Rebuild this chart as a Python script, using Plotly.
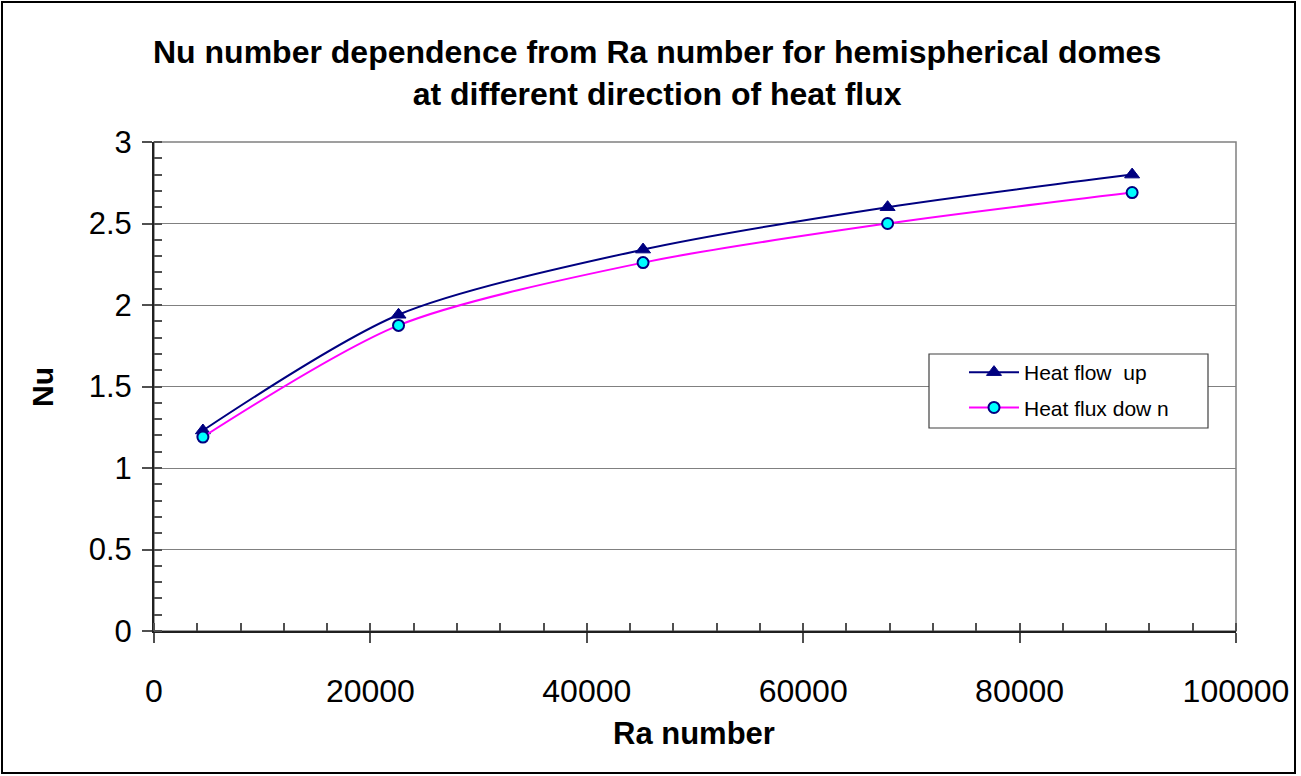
import plotly.graph_objects as go

# Rayleigh numbers and measured Nusselt numbers
ra = [4520, 22600, 45200, 67800, 90400]
nu_up = [1.23, 1.94, 2.34, 2.60, 2.80]
nu_down = [1.19, 1.875, 2.26, 2.50, 2.69]

series_names = ["Heat flow  up", "Heat flux dow n"]
title_lines = ["Nu number dependence from Ra number for hemispherical domes",
               "at different direction of heat flux"]
x_title = "Ra number"
y_title = "Nu"

W, H = 1301, 776
L, R, T, B = 154, 65, 142, 145
PW, PH = W - L - R, H - T - B


def px(p):
    return (p - L) / PW


def py(p):
    return (H - B - p) / PH


FONT = "Arial, Liberation Sans, sans-serif"
NAVY = "#000080"
GRID = "#808080"

fig = go.Figure()
fig.add_trace(go.Scatter(
    x=ra, y=nu_up, name=series_names[0], legendgroup="a",
    mode="lines+markers",
    line=dict(color=NAVY, width=2, shape="spline", smoothing=0.8),
    marker=dict(symbol="triangle-up", size=13, color=NAVY,
                line=dict(color=NAVY, width=1)),
))
fig.add_trace(go.Scatter(
    x=ra, y=nu_down, name=series_names[1], legendgroup="b",
    mode="lines+markers",
    line=dict(color="#FF00FF", width=2, shape="spline", smoothing=0.8),
    marker=dict(symbol="circle", size=11, color="#00FFFF",
                line=dict(color=NAVY, width=2)),
))

shapes = [
    # outer chart frame
    dict(type="rect", xref="paper", yref="paper",
         x0=px(2), x1=px(1295), y0=py(773), y1=py(2),
         line=dict(color="black", width=2), fillcolor="rgba(0,0,0,0)", layer="below"),
    # plot area frame
    dict(type="rect", xref="paper", yref="paper", x0=0, x1=1, y0=0, y1=1,
         line=dict(color=GRID, width=1.5), fillcolor="rgba(0,0,0,0)", layer="below"),
    # legend box
    dict(type="rect", xref="paper", yref="paper",
         x0=px(929), x1=px(1208), y0=py(428), y1=py(354),
         line=dict(color="#404040", width=1.2), fillcolor="white", layer="above"),
]

annotations = [
    dict(text="<b>" + "<br>".join(title_lines) + "</b>", xref="paper", yref="paper",
         x=px(657), y=py(73), xanchor="center", yanchor="middle", showarrow=False,
         font=dict(family=FONT, size=32, color="black")),
    dict(text="<b>" + x_title + "</b>", xref="paper", yref="paper",
         x=px(694), y=py(733), xanchor="center", yanchor="middle", showarrow=False,
         font=dict(family=FONT, size=31, color="black")),
    dict(text="<b>" + y_title + "</b>", xref="paper", yref="paper",
         x=px(42), y=py(387), xanchor="center", yanchor="middle", showarrow=False,
         textangle=-90, font=dict(family=FONT, size=30, color="black")),
]

fig.update_layout(
    width=W, height=H,
    margin=dict(l=L, r=R, t=T, b=B),
    paper_bgcolor="white", plot_bgcolor="white",
    font=dict(family=FONT, color="black"),
    showlegend=True,
    legend=dict(x=px(964), y=py(352), xanchor="left", yanchor="top",
                bgcolor="rgba(0,0,0,0)", borderwidth=0,
                font=dict(family=FONT, size=21, color="black"),
                itemwidth=50, tracegroupgap=5, traceorder="grouped"),
    shapes=shapes,
    annotations=annotations,
    xaxis=dict(
        range=[0, 100000], tickmode="linear", tick0=0, dtick=20000,
        tickformat="d",
        showgrid=False, zeroline=False,
        showline=True, linecolor="#202020", linewidth=2,
        ticks="outside", ticklen=10, tickwidth=1.5, tickcolor="#505050",
        ticklabelstandoff=21,
        tickfont=dict(family=FONT, size=32, color="black"),
        minor=dict(ticks="inside", ticklen=8, tickwidth=1.5, tickcolor="#505050",
                   dtick=4000, tick0=0, showgrid=False),
    ),
    yaxis=dict(
        range=[0, 3], tickmode="linear", tick0=0, dtick=0.5,
        showgrid=True, gridcolor=GRID, gridwidth=1.2,
        zeroline=False,
        showline=True, linecolor="#202020", linewidth=2,
        ticks="outside", ticklen=10, tickwidth=1.5, tickcolor="#505050",
        ticklabelstandoff=4,
        tickfont=dict(family=FONT, size=31, color="black"),
        minor=dict(ticks="inside", ticklen=8, tickwidth=1.5, tickcolor="#505050",
                   dtick=0.1, tick0=0, showgrid=False),
    ),
    xaxis2=dict(
        overlaying="x", matches="x", range=[0, 100000], tickmode="linear",
        tick0=0, dtick=20000, showticklabels=False, showgrid=False,
        zeroline=False, showline=False, ticks="inside", ticklen=8,
        tickwidth=1.5, tickcolor="#505050", anchor="y",
    ),
)

# invisible trace so the inner major x-ticks are drawn
fig.add_trace(go.Scatter(x=[0], y=[0], xaxis="x2", mode="markers",
                         marker=dict(opacity=0), showlegend=False, hoverinfo="skip"))

fig.write_html("out.html")
